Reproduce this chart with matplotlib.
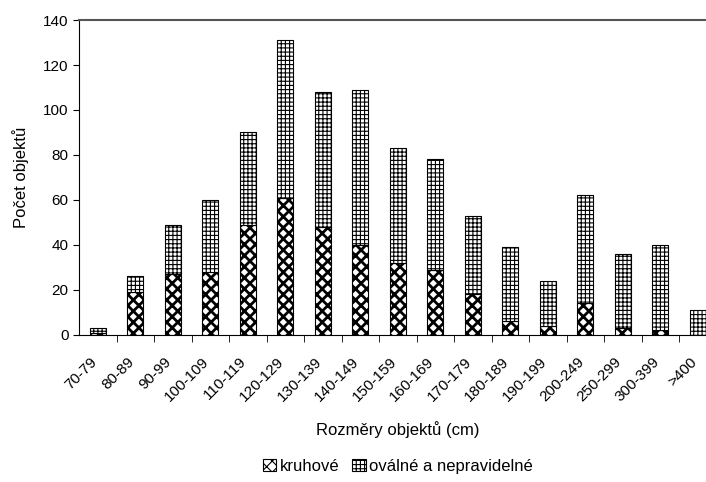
import matplotlib.pyplot as plt
import matplotlib.transforms as mtransforms
import numpy as np

# data
kategorie = ['70-79', '80-89', '90-99', '100-109', '110-119', '120-129', '130-139',
             '140-149', '150-159', '160-169', '170-179', '180-189', '190-199',
             '200-249', '250-299', '300-399', '>400']
kruhove = [1, 19, 27, 28, 49, 61, 48, 40, 32, 29, 18, 6, 4, 14, 3, 2, 0]
ovalne = [2, 7, 22, 32, 41, 70, 60, 69, 51, 49, 35, 33, 20, 48, 33, 38, 11]

plt.rcParams['font.family'] = ['Liberation Sans', 'DejaVu Sans']

fig = plt.figure(figsize=(7.06, 4.82), dpi=100)
ax = fig.add_axes([0.112, 0.305, 0.903, 0.6535])

x = np.arange(len(kategorie))
# denser, darker pattern for the round ones
plt.rcParams['hatch.linewidth'] = 2.0
b1 = ax.bar(x, kruhove, width=0.42, color='white', edgecolor='black',
            hatch='xxx', linewidth=0.8, label='kruhové')
plt.rcParams['hatch.linewidth'] = 0.8
b2 = ax.bar(x, ovalne, width=0.42, bottom=kruhove, color='white', edgecolor='black',
            hatch='++++', linewidth=0.8, label='oválné a nepravidelné')

ax.set_xlim(-0.5, len(kategorie) - 0.5)
ax.set_ylim(0, 140)
ax.set_yticks(range(0, 141, 20))
ax.set_xticks(x)
ax.set_xticklabels(kategorie, rotation=45, ha='right', rotation_mode='anchor', fontsize=11)
ax.set_xticks(x[:-1] + 0.5, minor=True)
ax.tick_params(axis='x', which='major', length=0, pad=14)
ax.tick_params(axis='x', which='minor', length=5, direction='out')
ax.tick_params(axis='y', labelsize=11, length=4)

# nudge the rotated labels a bit to the left, like the original
shift = mtransforms.ScaledTranslation(-6 / 72, 0, fig.dpi_scale_trans)
for lab in ax.get_xticklabels():
    lab.set_transform(lab.get_transform() + shift)

ax.spines['right'].set_visible(False)
ax.spines['top'].set_color('#555555')
ax.spines['top'].set_linewidth(1.5)

ax.set_xlabel('Rozměry objektů (cm)', fontsize=12, labelpad=12)
ax.set_ylabel('Počet objektů', fontsize=12, labelpad=10)

ax.legend(loc='upper center', bbox_to_anchor=(0.5, -0.345), ncol=2, frameon=False,
          fontsize=12, handlelength=0.8, handleheight=0.8, handletextpad=0.2,
          columnspacing=0.8)

fig.savefig('out.png', dpi=100)
